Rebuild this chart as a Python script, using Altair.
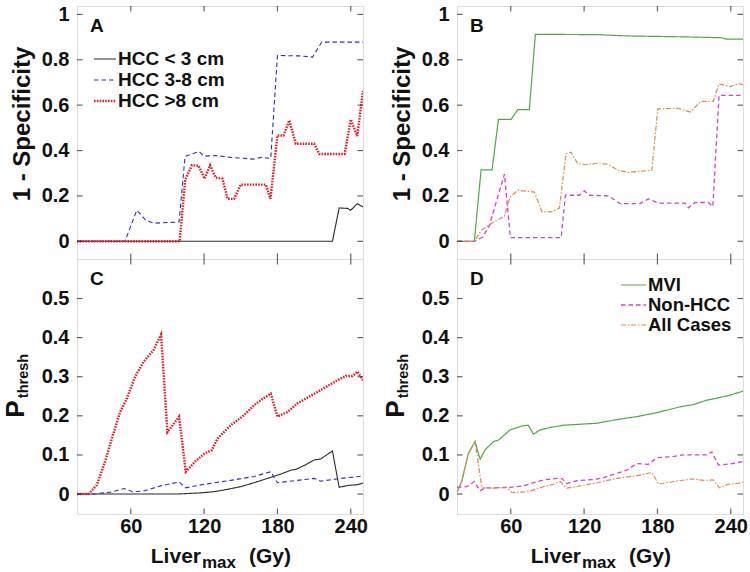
import altair as alt
import pandas as pd

FONT = "Liberation Sans"

# Liver max dose axis shared by all four panels
X_DOMAIN = [16, 250]
X_TICKS = [60, 120, 180, 240]
SPEC_DOMAIN = [-0.078, 1.037]
SPEC_TICKS = [0, 0.2, 0.4, 0.6, 0.8, 1.0]
PTH_DOMAIN = [-0.051, 0.601]
PTH_TICKS = [0, 0.1, 0.2, 0.3, 0.4, 0.5]

# Panel A: 1 - specificity by tumour size
a_small_x = [16, 225, 230.5, 237.5, 240, 245.4, 250]
a_small_y = [0, 0, 0.147, 0.145, 0.137, 0.166, 0.151]
a_mid_x = [16, 55.3, 64.9, 72.4, 79, 99.5, 104.4, 115.9, 120, 129.6, 141.8, 160.9,
           166.4, 174.5, 180, 197.7, 208.7, 216.3, 250]
a_mid_y = [0, 0, 0.137, 0.092, 0.08, 0.085, 0.374, 0.396, 0.375, 0.378, 0.37, 0.362,
           0.37, 0.365, 0.819, 0.817, 0.812, 0.878, 0.878]
a_large_x = [16, 100, 104.5, 110, 115.5, 120.3, 124.9, 129.6, 135, 139.2, 144.5, 150,
             170.5, 174.3, 180, 185, 189.7, 195, 210, 214.3, 235, 240, 245.3, 250]
a_large_y = [0, 0, 0.27, 0.335, 0.333, 0.276, 0.335, 0.28, 0.276, 0.187, 0.187, 0.25,
             0.25, 0.187, 0.467, 0.466, 0.533, 0.43, 0.43, 0.385, 0.385, 0.537, 0.464, 0.663]

# Panel B: 1 - specificity by group
b_mvi_x = [16, 30.2, 35.7, 44.7, 49.9, 60.2, 65.7, 75.2, 80.1, 129, 156, 202.6, 232.6, 236.7, 250]
b_mvi_y = [0, 0, 0.315, 0.315, 0.537, 0.537, 0.58, 0.58, 0.912, 0.911, 0.905, 0.901, 0.897, 0.891, 0.891]
b_non_x = [16, 30.2, 37.1, 42.5, 54.8, 59.7, 101.2, 104.7, 116.1, 120.2, 124.3, 139.9, 149.4,
           165.8, 172.6, 180.8, 202.6, 205.3, 210.8, 221.7, 225.3, 230.4, 250]
b_non_y = [0, 0, 0.019, 0.07, 0.296, 0.016, 0.016, 0.203, 0.203, 0.222, 0.203, 0.2, 0.166,
           0.166, 0.187, 0.168, 0.168, 0.148, 0.171, 0.171, 0.153, 0.643, 0.643]
b_all_x = [16, 30.2, 35.7, 45.3, 54.8, 59.4, 65.7, 79.3, 85.6, 94.4, 99.8, 105.2, 109.3, 114.8,
           121.6, 132.5, 139.9, 148, 156.2, 175.4, 180.3, 197.1, 206.7, 215.7, 225.8, 230.4,
           239.4, 246.2, 250]
b_all_y = [0, 0, 0.048, 0.082, 0.111, 0.195, 0.225, 0.217, 0.129, 0.131, 0.147, 0.386, 0.393,
           0.342, 0.338, 0.345, 0.338, 0.313, 0.304, 0.313, 0.584, 0.586, 0.57, 0.617, 0.617,
           0.694, 0.682, 0.695, 0.69]

# Panel C: P_thresh by tumour size
c_small_x = [16, 98, 117.3, 128, 139.1, 150, 160.9, 171.8, 182.7, 190.9, 195, 203.2, 210,
             215.5, 225, 230.5, 237.3, 245.5, 250]
c_small_y = [0, 0, 0.003, 0.006, 0.012, 0.019, 0.029, 0.04, 0.051, 0.061, 0.063, 0.075,
             0.087, 0.09, 0.11, 0.017, 0.022, 0.024, 0.028]
c_mid_x = [16, 29.7, 43.6, 54.5, 61.4, 70.9, 84.5, 99.5, 105, 120, 141.8, 160.9, 174.5, 180,
           196.4, 210, 215.5, 231.8, 250]
c_mid_y = [0, 0, 0.005, 0.014, 0.006, 0.008, 0.021, 0.031, 0.016, 0.025, 0.035, 0.045, 0.057,
           0.029, 0.035, 0.04, 0.033, 0.04, 0.046]
c_large_x = [16, 25.4, 32.2, 39, 44.5, 51.3, 56.7, 63.5, 70.4, 78.6, 84.8, 90, 99.5, 105,
             112.6, 120.5, 126.3, 131, 141.8, 151.3, 160.9, 167.7, 174.5, 180, 188.2, 196.4,
             212.7, 229.1, 235.9, 241.4, 245.5, 250]
c_large_y = [0, 0, 0.023, 0.083, 0.142, 0.21, 0.244, 0.3, 0.338, 0.368, 0.408, 0.158, 0.198,
             0.057, 0.083, 0.104, 0.112, 0.142, 0.176, 0.198, 0.227, 0.243, 0.257, 0.198,
             0.21, 0.232, 0.261, 0.291, 0.302, 0.302, 0.313, 0.291]

# Panel D: P_thresh by group
d_mvi_x = [16, 19.9, 25.3, 30.8, 34.9, 39, 45.8, 49.9, 59.4, 69, 74.4, 78.5, 84, 92.2, 103,
           119.4, 130.4, 144, 163.1, 179.5, 198.5, 209.4, 220.4, 228.5, 239.4, 250]
d_mvi_y = [0.005, 0.032, 0.104, 0.134, 0.089, 0.113, 0.134, 0.138, 0.164, 0.174, 0.176, 0.153,
           0.164, 0.17, 0.176, 0.179, 0.181, 0.189, 0.198, 0.208, 0.223, 0.229, 0.24, 0.245,
           0.253, 0.263]
d_non_x = [16, 24, 30.2, 34.9, 39, 45.8, 59.4, 70.3, 78.5, 86.7, 97.6, 101.7, 105.8, 114,
           130.4, 135.8, 146.7, 154.9, 163.1, 172.6, 179.5, 190.4, 201.2, 220.4, 224.5,
           229.9, 239.4, 250]
d_non_y = [0.017, 0.019, 0.032, 0.008, 0.016, 0.016, 0.017, 0.021, 0.029, 0.036, 0.04, 0.04,
           0.027, 0.034, 0.038, 0.042, 0.053, 0.061, 0.078, 0.076, 0.093, 0.095, 0.1, 0.1,
           0.108, 0.074, 0.077, 0.083]
d_all_x = [16, 19.9, 25.3, 30.8, 36.3, 45.8, 54, 56.8, 60.8, 70.3, 75.8, 86.7, 94.9, 100.3,
           105.8, 116.7, 130.4, 146.7, 163.1, 175.4, 180.8, 195.8, 206.7, 211, 217.6, 225.8,
           230.7, 238, 245, 250]
d_all_y = [0.005, 0.032, 0.104, 0.134, 0.016, 0.015, 0.017, 0.017, 0.004, 0.005, 0.008,
           0.019, 0.025, 0.032, 0.015, 0.021, 0.029, 0.04, 0.047, 0.055, 0.026, 0.033, 0.038,
           0.038, 0.035, 0.036, 0.016, 0.025, 0.027, 0.03]

# Line styles: (label, colour, dash, width)
STYLE_SMALL = ("HCC < 3 cm", "#2a2a2a", [1, 0], 1.1)
STYLE_MID = ("HCC 3-8 cm", "#2f2fbf", [4.5, 3], 1.1)
STYLE_LARGE = ("HCC >8 cm", "#e3202a", [1.6, 1.2], 2.4)
STYLE_MVI = ("MVI", "#4cab48", [1, 0], 1.2)
STYLE_NON = ("Non-HCC", "#d43fd4", [4.5, 3], 1.3)
STYLE_ALL = ("All Cases", "#e8884a", [5, 1.8, 1.5, 1.8], 1.2)

W, H_TOP, H_BOT = 286, 253, 255
ONE = pd.DataFrame({"k": [0]})
AXIS_TEXT = dict(labelFont=FONT, labelFontWeight="bold", labelFontSize=20, labelColor="#111",
                 ticks=False, domain=False, grid=False, title=None)


def enc_x(labels):
    return alt.X("x:Q", scale=alt.Scale(domain=X_DOMAIN, nice=False, zero=False),
                 axis=alt.Axis(values=X_TICKS, labels=labels, labelPadding=2, **AXIS_TEXT))


def enc_y(domain, ticks):
    return alt.Y("y:Q", scale=alt.Scale(domain=domain, nice=False, zero=False),
                 axis=alt.Axis(values=ticks, format="~g", labelPadding=8, **AXIS_TEXT))


def series(xs, ys, style, ex, ey):
    _, color, dash, width = style
    df = pd.DataFrame({"x": xs, "y": ys})
    return alt.Chart(df).mark_line(color=color, strokeDash=dash, strokeWidth=width,
                                   clip=True).encode(x=ex, y=ey)


def frame_ticks(ex, ey, yticks, height):
    xt = pd.DataFrame({"x": X_TICKS})
    yt = pd.DataFrame({"y": yticks})
    tick = dict(color="#222", thickness=1.2, size=11, clip=True)
    return [
        alt.Chart(xt).mark_tick(orient="vertical", **tick).encode(x=ex, y=alt.value(height)),
        alt.Chart(xt).mark_tick(orient="vertical", **tick).encode(x=ex, y=alt.value(0)),
        alt.Chart(yt).mark_tick(orient="horizontal", **tick).encode(y=ey, x=alt.value(0)),
        alt.Chart(yt).mark_tick(orient="horizontal", **tick).encode(y=ey, x=alt.value(W)),
    ]


def label(text, x, y, size, align="left", angle=0, baseline="alphabetic"):
    return alt.Chart(ONE).mark_text(
        text=text, font=FONT, fontWeight="bold", fontSize=size, align=align,
        baseline=baseline, angle=angle, color="#111"
    ).encode(x=alt.value(x), y=alt.value(y))


def legend(styles, x0, x1, ys, size):
    layers = []
    for style, y in zip(styles, ys):
        name, color, dash, width = style
        layers.append(alt.Chart(ONE).mark_rule(color=color, strokeDash=dash, strokeWidth=width)
                      .encode(x=alt.value(x0), x2=alt.value(x1), y=alt.value(y)))
        layers.append(label(name, x1 + 2, y, size, baseline="middle"))
    return layers


def spec_title():
    return [label("1 - Specificity", -47, 118, 24, align="center", angle=270)]


def pthresh_title():
    return [label("P", -53, 150, 26, align="center", angle=270),
            label("thresh", -49, 117, 14.5, align="center", angle=270)]


def dose_title(height):
    base = height + 48.5
    return [label("Liver", 124, base, 21, align="right"),
            label("max", 125, base + 5, 17),
            label("(Gy)", 172, base, 21)]


def panel(lines, letter, domain, ticks, height, bottom, extra):
    ex = enc_x(bottom)
    ey = enc_y(domain, ticks)
    layers = [series(xs, ys, st, ex, ey) for xs, ys, st in lines]
    layers += frame_ticks(ex, ey, ticks, height)
    layers.append(label(letter, 13, 26, 19))
    layers += extra
    return alt.layer(*layers).properties(width=W, height=height)


pA = panel([(a_small_x, a_small_y, STYLE_SMALL), (a_mid_x, a_mid_y, STYLE_MID),
            (a_large_x, a_large_y, STYLE_LARGE)], "A", SPEC_DOMAIN, SPEC_TICKS, H_TOP, False,
           spec_title() + legend([STYLE_SMALL, STYLE_MID, STYLE_LARGE], 17, 39, [53, 74, 95], 19))
pB = panel([(b_mvi_x, b_mvi_y, STYLE_MVI), (b_non_x, b_non_y, STYLE_NON),
            (b_all_x, b_all_y, STYLE_ALL)], "B", SPEC_DOMAIN, SPEC_TICKS, H_TOP, False,
           spec_title())
pC = panel([(c_small_x, c_small_y, STYLE_SMALL), (c_mid_x, c_mid_y, STYLE_MID),
            (c_large_x, c_large_y, STYLE_LARGE)], "C", PTH_DOMAIN, PTH_TICKS, H_BOT, True,
           pthresh_title() + dose_title(H_BOT))
pD = panel([(d_mvi_x, d_mvi_y, STYLE_MVI), (d_non_x, d_non_y, STYLE_NON),
            (d_all_x, d_all_y, STYLE_ALL)], "D", PTH_DOMAIN, PTH_TICKS, H_BOT, True,
           pthresh_title() + dose_title(H_BOT)
           + legend([STYLE_MVI, STYLE_NON, STYLE_ALL], 164, 189, [26, 46, 66], 18.5))

chart = alt.concat(
    pA, pB, pC, pD, columns=2, spacing={"row": 0, "column": 94}, bounds="flush"
).properties(
    padding={"left": 2, "top": 3, "right": 2, "bottom": 2}
).configure_view(
    stroke="#1c1c1c", strokeWidth=1.8
).configure(background="white")

chart.save("out.html", embed_options={"renderer": "svg", "actions": False})
